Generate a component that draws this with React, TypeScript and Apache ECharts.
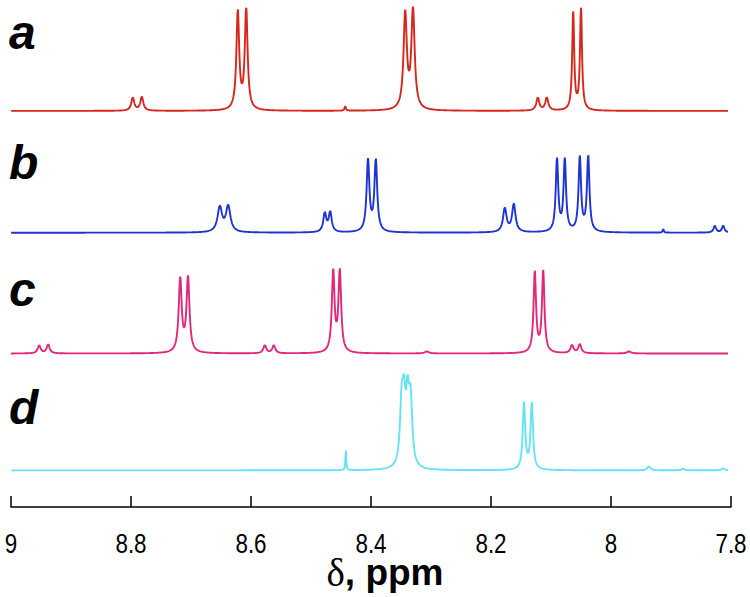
import React, { useEffect, useRef } from "react";
import * as echarts from "echarts";

// ---- data (chemical shift in ppm, intensity in arbitrary units) ----
const xTickValues = [9, 8.8, 8.6, 8.4, 8.2, 8, 7.8];
const xTicks = ["9", "8.8", "8.6", "8.4", "8.2", "8", "7.8"];
const traceNames = ["a", "b", "c", "d"];
const traceOffsets = [400, 277, 155, 37];

const peaksA = [8.797, 8.782, 8.622, 8.608, 8.443, 8.343, 8.33, 8.122, 8.107, 8.063, 8.05];
const heightsA = [13, 14, 99, 101, 5, 96, 100, 13, 13, 98, 103];
const widthsA = [0.003, 0.003, 0.0028, 0.0028, 0.0012, 0.0033, 0.0033, 0.003, 0.003, 0.002, 0.002];

const peaksB = [8.652, 8.638, 8.477, 8.468, 8.405, 8.392, 8.177, 8.162, 8.09, 8.077, 8.052, 8.038, 7.913, 7.827, 7.813];
const heightsB = [25, 26, 19, 20, 72, 72, 24, 28, 73, 72, 75, 76, 4, 7, 7];
const widthsB = [0.0045, 0.0045, 0.003, 0.003, 0.0028, 0.0028, 0.0035, 0.0035, 0.0025, 0.0025, 0.0025, 0.0025, 0.001, 0.0025, 0.0025];

const peaksC = [8.953, 8.938, 8.718, 8.705, 8.577, 8.562, 8.463, 8.452, 8.307, 8.127, 8.113, 8.065, 8.052, 7.97];
const heightsC = [8, 9, 74, 75, 8, 8, 81, 82, 2, 81, 82, 8, 9, 2];
const widthsC = [0.003, 0.003, 0.003, 0.003, 0.003, 0.003, 0.0027, 0.0027, 0.004, 0.0025, 0.0025, 0.003, 0.003, 0.004];

const peaksD = [8.442, 8.349, 8.345, 8.339, 8.334, 8.145, 8.132, 7.937, 7.88, 7.813];
const heightsD = [21, 57, 57, 61, 62, 67, 67, 4, 1.5, 2];
const widthsD = [0.0008, 0.0032, 0.0032, 0.0032, 0.0032, 0.0025, 0.0025, 0.003, 0.003, 0.003];

const colors = ["#d7261b", "#1c34d4", "#e1287c", "#66e3f2"];

const X_START = 7.805;
const X_END = 9.0;
const STEP = 0.0004;

function spectrum(centers: number[], heights: number[], widths: number[], offset: number) {
  const pts: number[][] = [];
  const n = Math.round((X_END - X_START) / STEP);
  for (let i = 0; i <= n; i++) {
    const x = X_START + i * STEP;
    let y = 0;
    for (let k = 0; k < centers.length; k++) {
      const u = (x - centers[k]) / widths[k];
      y += heights[k] / (1 + u * u);
    }
    pts.push([x, offset + y]);
  }
  return pts;
}

export default function App() {
  const ref = useRef<HTMLDivElement>(null);
  useEffect(() => {
    if (!ref.current) return;
    const chart = echarts.init(ref.current, null, { renderer: "svg" });
    const sets = [
      [peaksA, heightsA, widthsA],
      [peaksB, heightsB, widthsB],
      [peaksC, heightsC, widthsC],
      [peaksD, heightsD, widthsD],
    ];
    const series = sets.map((s, i) => ({
      type: "line",
      name: traceNames[i],
      data: spectrum(s[0], s[1], s[2], traceOffsets[i]),
      showSymbol: false,
      symbol: "none",
      lineStyle: { color: colors[i], width: 1.9 },
      itemStyle: { color: colors[i] },
      z: 2,
    }));
    const labelTops = [8, 138, 265, 383];
    const letterGraphics = traceNames.map((t, i) => ({
      type: "text",
      x: 9,
      y: labelTops[i],
      style: {
        text: t,
        font: "italic bold 48px 'Liberation Sans', Arial, sans-serif",
        fill: "#000",
        verticalAlign: "top",
        align: "left",
      },
    }));
    chart.setOption({
      animation: false,
      backgroundColor: "#ffffff",
      grid: { left: 11, right: 19, top: 0, bottom: 85 },
      xAxis: {
        type: "value",
        min: 7.8,
        max: 9,
        interval: 0.2,
        inverse: true,
        axisLine: { onZero: false, lineStyle: { color: "#000", width: 1.5 } },
        axisTick: { inside: true, length: 11, lineStyle: { color: "#000", width: 1.5 } },
        splitLine: { show: false },
        axisLabel: { show: false },
        name: "{d|δ}{p|, ppm}",
        nameLocation: "middle",
        nameGap: 46,
        nameTextStyle: {
          padding: [0, 0, 0, 28],
          rich: {
            d: { fontSize: 39, fontFamily: "Liberation Serif, DejaVu Serif, serif", color: "#000" },
            p: { fontSize: 37, fontWeight: "bold", fontFamily: "Liberation Sans, Arial, sans-serif", color: "#000" },
          },
        },
      },
      yAxis: { type: "value", min: 0, max: 512, show: false },
      graphic: letterGraphics,
      series,
    });
    // narrow tick labels placed through the axis scale
    const axisY = chart.convertToPixel({ yAxisIndex: 0 }, 0) as number;
    const tickGraphics = xTickValues.map((v, i) => ({
      type: "text",
      x: chart.convertToPixel({ xAxisIndex: 0 }, v) as number,
      y: axisY + 22,
      scaleX: 0.8,
      style: {
        text: xTicks[i],
        font: "28px 'Liberation Sans', Arial, sans-serif",
        fill: "#000",
        align: "center",
        verticalAlign: "top",
      },
    }));
    chart.setOption({ graphic: [...letterGraphics, ...tickGraphics] });
    return () => chart.dispose();
  }, []);
  return <div ref={ref} style={{ width: 750, height: 597, position: "absolute", left: 0, top: 0 }} />;
}
